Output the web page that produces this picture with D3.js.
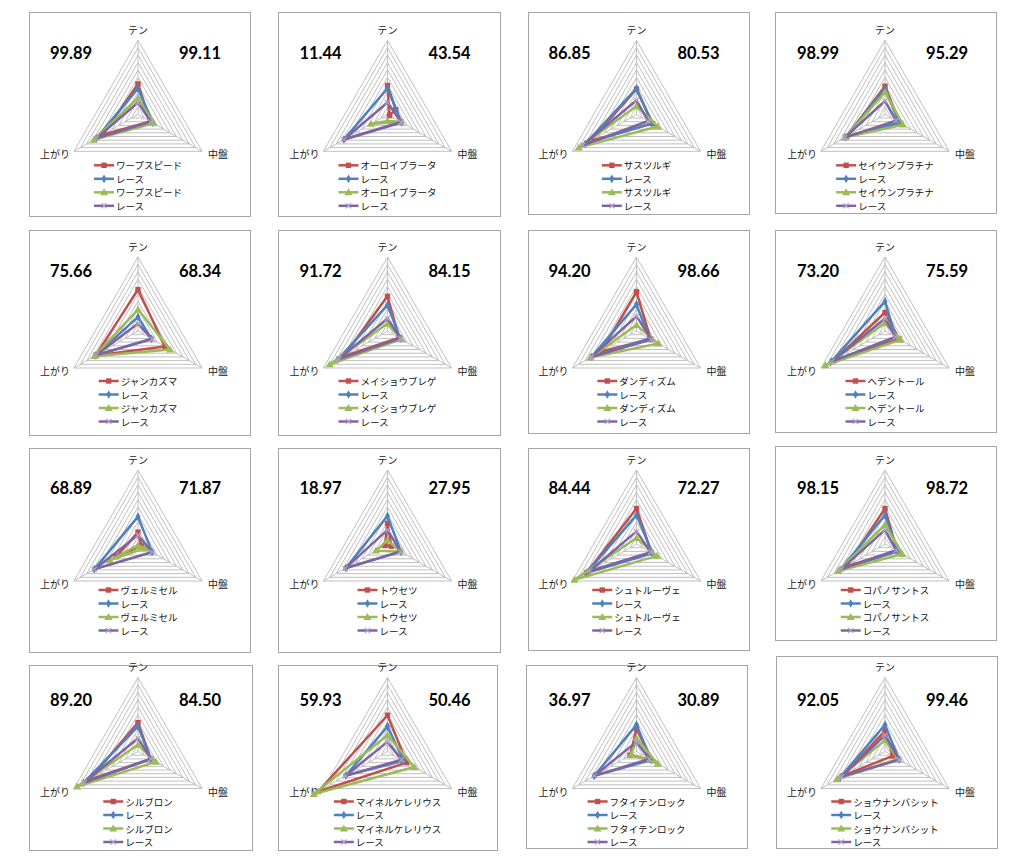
<!DOCTYPE html>
<html><head><meta charset="utf-8">
<script src="https://cdn.jsdelivr.net/npm/d3@7"></script>
<style>body{margin:0;background:#fff}</style>
</head><body><svg id="c" width="1024" height="866"></svg>
<script>
// ---------------- data ----------------
const axisLabels = ["テン", "中盤", "上がり"];
const horseNames = ["ワープスピード","オーロイプラータ","サスツルギ","セイウンプラチナ",
  "ジャンカズマ","メイショウブレゲ","ダンディズム","ヘデントール",
  "ヴェルミセル","トウセツ","シュトルーヴェ","コパノサントス",
  "シルブロン","マイネルケレリウス","フタイテンロック","ショウナンバシット"];
const raceLabel = "レース";
const leftScores  = ["99.89","11.44","86.85","98.99","75.66","91.72","94.20","73.20",
                     "68.89","18.97","84.44","98.15","89.20","59.93","36.97","92.05"];
const rightScores = ["99.11","43.54","80.53","95.29","68.34","84.15","98.66","75.59",
                     "71.87","27.95","72.27","98.72","84.50","50.46","30.89","99.46"];
const axisTicks = [0,1,2,3,4,5,6,7,8,9,10];
// each entry: [テン, 中盤, 上がり]
const seriesRed = [[4.1,1.9,5.5],[3.9,0.3,-1.3],[3.4,2.5,7.2],[3.8,2.3,6.0],
  [5.6,4.2,6.6],[4.7,1.8,6.9],[5.3,2.2,5.5],[2.5,2.2,8.0],
  [1.6,0.5,3.4],[2.8,0.6,0.4],[4.8,2.3,7.8],[4.8,1.9,6.0],
  [3.9,2.0,7.6],[4.9,3.0,10.8],[3.1,2.3,1.0],[2.8,1.2,6.5]];
const seriesBlue = [[3.5,2.3,6.5],[3.5,2.2,6.8],[3.5,2.4,8.0],[3.4,2.2,6.2],
  [1.9,2.1,6.6],[3.5,2.0,7.8],[3.6,2.0,7.0],[4.0,1.7,8.5],
  [3.7,2.2,6.8],[3.8,2.1,6.5],[3.9,2.5,7.8],[3.9,2.0,7.0],
  [3.4,2.0,8.5],[3.4,2.5,6.5],[3.6,2.3,6.6],[3.6,2.2,7.0]];
const seriesGreen = [[2.2,2.4,6.9],[-0.9,2.0,2.6],[1.1,3.3,9.0],[3.0,2.8,6.2],
  [2.9,5.0,6.8],[1.0,2.2,9.0],[0.8,3.4,7.2],[1.1,2.4,9.3],
  [-0.2,1.1,4.4],[0.5,2.0,1.8],[0.8,3.2,9.7],[2.6,2.7,7.3],
  [0.9,2.8,9.5],[2.2,4.2,11.5],[1.8,3.3,0.8],[1.5,2.0,7.5]];
const seriesPurple = [[1.6,2.0,6.5],[1.6,2.1,6.8],[1.9,1.8,8.4],[1.8,1.7,6.3],
  [1.0,2.2,6.5],[1.7,2.0,7.6],[2.0,2.3,7.0],[1.7,1.6,8.3],
  [1.2,2.2,6.8],[1.9,2.0,6.6],[1.7,2.2,7.3],[1.9,1.7,6.8],
  [1.8,2.0,8.4],[1.3,2.2,6.6],[1.3,2.0,6.6],[2.2,2.2,6.8]];

// ---------------- layout / style ----------------
const colCx = [138, 387.5, 636.5, 885];
const rowCy = [114.3, 331, 544, 751.5];
const numDy = [-61, -60, -56, -51.5];
const legDy = [51, 50, 46, 50];
const boxes = [
  [29,12,250,216],[278,12,500,216],[528,12,749,214],[775,12,996,213],
  [29,230,250,435],[278,230,500,435],[528,230,749,433],[775,230,996,432],
  [29,448,250,652],[278,448,500,652],[528,448,749,650],[775,446,996,640],
  [29,665,252,850],[278,665,497,850],[526,665,747,848],[776,656,997,848]];
const R = 74;
const colors = ["#C0504D","#4F81BD","#9BBB59","#8064A2"];
const markers = ["square","diamond","triangle","x"];
const angles = [-90, 30, 150].map(d => d * Math.PI / 180);

const svg = d3.select("#c");
const r = d3.scaleLinear().domain([0, 10]).range([0, R]);
const allSeries = [seriesRed, seriesBlue, seriesGreen, seriesPurple];

function markerPath(g, kind, x, y, color) {
  if (kind === "square") {
    g.append("rect").attr("x", x-2.7).attr("y", y-2.7).attr("width", 5.4).attr("height", 5.4).attr("fill", color);
  } else if (kind === "diamond") {
    g.append("path").attr("d", d3.symbol(d3.symbolDiamond, 22)()).attr("transform", `translate(${x},${y})`).attr("fill", color);
  } else if (kind === "triangle") {
    g.append("path").attr("d", d3.symbol(d3.symbolTriangle, 28)()).attr("transform", `translate(${x},${y+0.6})`).attr("fill", color);
  } else {
    g.append("path").attr("d", `M${x-2.6},${y-2.6}L${x+2.6},${y+2.6}M${x-2.6},${y+2.6}L${x+2.6},${y-2.6}`)
      .attr("stroke", "#B3A2C7").attr("stroke-width", 1.2).attr("fill", "none");
  }
}

horseNames.forEach((name, i) => {
  const row = Math.floor(i / 4), col = i % 4;
  const cx = colCx[col], cy = rowCy[row];
  const b = boxes[i];
  svg.append("rect").attr("x", b[0]+0.5).attr("y", b[1]+0.5).attr("width", b[2]-b[0]).attr("height", b[3]-b[1])
    .attr("fill", "#fff").attr("stroke", "#A6A6A6").attr("stroke-width", 1);
  const g = svg.append("g").attr("transform", `translate(${cx},${cy})`);
  const pt = (v, k) => [r(v) * Math.cos(angles[k]), r(v) * Math.sin(angles[k])];
  // rings
  axisTicks.slice(1).forEach(t => {
    g.append("path").attr("d", d3.line()([0,1,2,0].map(k => pt(t, k))))
      .attr("fill", "none").attr("stroke", "#C0C0C0").attr("stroke-width", 1);
  });
  [0,1,2].forEach(k => {
    g.append("line").attr("x1", 0).attr("y1", 0).attr("x2", pt(10,k)[0]).attr("y2", pt(10,k)[1])
      .attr("stroke", "#C0C0C0").attr("stroke-width", 1);
  });
  // axis labels
  const lf = "'Noto Sans CJK JP', sans-serif";
  g.append("text").text(axisLabels[0]).attr("x", 0).attr("y", -R - 11).attr("text-anchor", "middle")
    .attr("dominant-baseline", "central").attr("font-family", lf).attr("font-size", 10).attr("fill", "#222");
  g.append("text").text(axisLabels[1]).attr("x", pt(10,1)[0] + 6).attr("y", pt(10,1)[1] + 2.5).attr("text-anchor", "start")
    .attr("dominant-baseline", "central").attr("font-family", lf).attr("font-size", 10).attr("fill", "#222");
  g.append("text").text(axisLabels[2]).attr("x", pt(10,2)[0] - 4).attr("y", pt(10,2)[1] + 2.5).attr("text-anchor", "end")
    .attr("dominant-baseline", "central").attr("font-family", lf).attr("font-size", 10).attr("fill", "#222");
  // series
  allSeries.forEach((s, si) => {
    const pts = s[i].map((v, k) => pt(v, k));
    g.append("path").attr("d", d3.line()([...pts, pts[0]]))
      .attr("fill", "none").attr("stroke", colors[si]).attr("stroke-width", 2.5).attr("stroke-linejoin", "round");
    pts.forEach(p => markerPath(g, markers[si], p[0], p[1], colors[si]));
  });
  // scores
  const nf = "Lato, 'Open Sans', sans-serif";
  g.append("text").text(leftScores[i]).attr("x", -67).attr("y", numDy[row]).attr("text-anchor", "middle")
    .attr("dominant-baseline", "central").attr("font-family", nf).attr("font-weight", "bold").attr("font-size", 16.5).attr("fill", "#000");
  g.append("text").text(rightScores[i]).attr("x", 62).attr("y", numDy[row]).attr("text-anchor", "middle")
    .attr("dominant-baseline", "central").attr("font-family", nf).attr("font-weight", "bold").attr("font-size", 16.5).attr("fill", "#000");
  // legend
  const labels = [name, raceLabel, name, raceLabel];
  const lg = g.append("g");
  let maxW = 0;
  labels.forEach((lab, si) => {
    const it = lg.append("g").attr("transform", `translate(0,${legDy[row] + si * 13.5})`);
    const t = it.append("text").text(lab).attr("x", 22).attr("y", 0).attr("dominant-baseline", "central")
      .attr("font-family", lf).attr("font-size", 9.5).attr("fill", "#111");
    maxW = Math.max(maxW, t.node().getComputedTextLength());
    it.append("line").attr("x1", 0).attr("x2", 20).attr("y1", 0).attr("y2", 0)
      .attr("stroke", colors[si]).attr("stroke-width", 2.5);
    markerPath(it, markers[si], 10, 0, colors[si]);
  });
  lg.attr("transform", `translate(${-(22 + maxW) / 2},0)`);
});
</script></body></html>
